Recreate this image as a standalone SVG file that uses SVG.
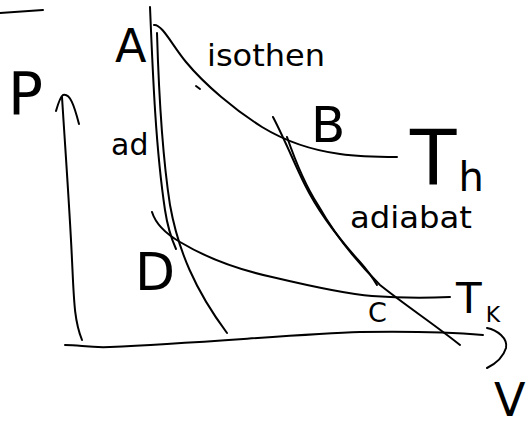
<svg xmlns="http://www.w3.org/2000/svg" width="532" height="430" viewBox="0 0 532 430">
<style>
.s{fill:none;stroke:#000;stroke-width:2;stroke-linecap:round;stroke-linejoin:round}
.t{font-family:"DejaVu Sans","Liberation Sans",sans-serif;fill:#000;font-weight:normal}
</style>
<rect width="532" height="430" fill="#fff"/>
<g id="connectors">
<path id="topline" class="s" d="M0,13 C15,12 30,11 43,10"/>
<path id="p-axis" class="s" d="M62,97 C66,160 70,215 72,260 C74,300 74,320 82,340"/>
<path id="p-arrow" class="s" d="M56,111 C58,104 60,97 63,95 C70,93 74,105 79,124"/>
<path id="v-axis" class="s" d="M65,345 C80,345 90,348 110,347 C200,343 300,334 360,332 C420,331 460,333 483,335"/>
<path id="v-arrow" class="s" d="M487,328 C497,330 508,338 506,348 C503,358 495,364 487,368"/>
<path id="iso-hot" class="s" d="M154,25 C162,24 172,45 186,62 C205,85 235,110 262,127 C285,141 310,150 340,154 C360,157 380,157 397,157"/>
<path id="iso-hot-tick" class="s" d="M196,86 L200,89"/>
<path id="iso-cold" class="s" d="M152,212 C156,225 168,235 180,242 C210,260 240,270 272,277 C310,286 345,294 372,296 C400,298 425,298 450,297"/>
<path id="ad-left-1" class="s" d="M150,7 C153,80 156,150 165,210 C168,230 172,240 176,249"/>
<path id="ad-left-2" class="s" d="M157,33 C159,100 163,160 170,205 C178,250 195,290 227,333"/>
<path id="ad-right-1" class="s" d="M273,117 C285,140 295,165 305,185 C320,215 340,240 360,262 C367,270 373,278 377,285"/>
<path id="ad-right-2" class="s" d="M287,137 C295,160 305,185 318,205 C335,235 355,260 380,285 C405,305 435,325 460,345"/>
</g>
<g id="label-A"><text class="t" x="115" y="62" font-size="46">A</text></g>
<g id="label-P"><text class="t" x="8" y="114" font-size="58">P</text></g>
<g id="label-isothen"><text class="t" x="207" y="66" font-size="30" textLength="118" lengthAdjust="spacingAndGlyphs">isothen</text></g>
<g id="label-B"><text class="t" x="311" y="142" font-size="50">B</text></g>
<g id="label-Th"><text class="t" x="410" y="185" font-size="76">T<tspan font-size="40" dx="2" dy="6">h</tspan></text></g>
<g id="label-ad"><text class="t" x="111" y="155" font-size="30">ad</text></g>
<g id="label-adiabat"><text class="t" x="350" y="228" font-size="30" textLength="122" lengthAdjust="spacingAndGlyphs">adiabat</text></g>
<g id="label-D"><text class="t" x="135" y="290" font-size="52">D</text></g>
<g id="label-C"><text class="t" x="368" y="322" font-size="27">C</text></g>
<g id="label-TK"><text class="t" x="456" y="313" font-size="42">T<tspan font-size="22" dx="4" dy="9">K</tspan></text></g>
<g id="label-V"><text class="t" x="494" y="416" font-size="46">V</text></g>
</svg>
